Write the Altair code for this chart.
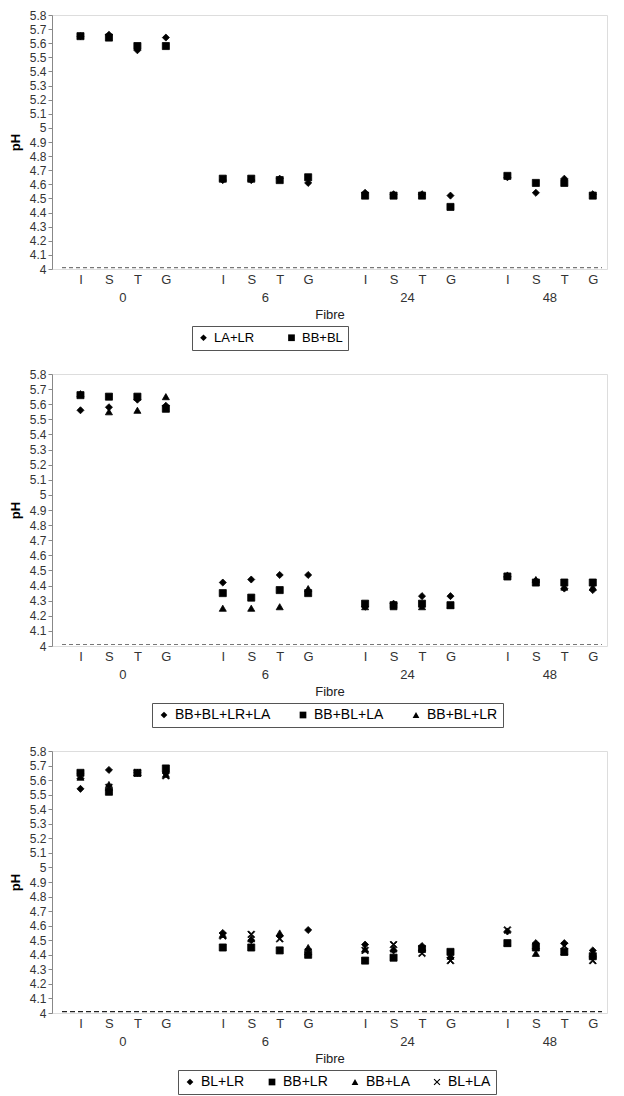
import altair as alt
import pandas as pd

# ---- categories ----
groups = ["0", "6", "24", "48"]
subs = ["I", "S", "T", "G"]
y_ticks = [4.0, 4.1, 4.2, 4.3, 4.4, 4.5, 4.6, 4.7, 4.8, 4.9, 5.0,
           5.1, 5.2, 5.3, 5.4, 5.5, 5.6, 5.7, 5.8]

# ---- panel 1 ----
p1_names = ["LA+LR", "BB+BL"]
p1_la_lr = [5.65, 5.66, 5.55, 5.64, 4.63, 4.63, 4.64, 4.61,
            4.54, 4.53, 4.53, 4.52, 4.65, 4.54, 4.64, 4.53]
p1_bb_bl = [5.65, 5.64, 5.58, 5.58, 4.64, 4.64, 4.63, 4.65,
            4.52, 4.52, 4.52, 4.44, 4.66, 4.61, 4.61, 4.52]

# ---- panel 2 ----
p2_names = ["BB+BL+LR+LA", "BB+BL+LA", "BB+BL+LR"]
p2_bb_bl_lr_la = [5.56, 5.58, 5.63, 5.59, 4.42, 4.44, 4.47, 4.47,
                  4.26, 4.28, 4.33, 4.33, 4.46, 4.43, 4.38, 4.37]
p2_bb_bl_la = [5.66, 5.65, 5.65, 5.57, 4.35, 4.32, 4.37, 4.35,
               4.28, 4.27, 4.28, 4.27, 4.46, 4.42, 4.42, 4.42]
p2_bb_bl_lr = [5.67, 5.55, 5.56, 5.65, 4.25, 4.25, 4.26, 4.38,
               4.26, 4.26, 4.26, 4.27, 4.47, 4.44, 4.39, 4.39]

# ---- panel 3 ----
p3_names = ["BL+LR", "BB+LR", "BB+LA", "BL+LA"]
p3_bl_lr = [5.54, 5.67, 5.65, 5.65, 4.55, 4.50, 4.53, 4.57,
            4.47, 4.43, 4.46, 4.38, 4.56, 4.48, 4.48, 4.43]
p3_bb_lr = [5.65, 5.52, 5.65, 5.68, 4.45, 4.45, 4.43, 4.40,
            4.36, 4.38, 4.44, 4.42, 4.48, 4.45, 4.42, 4.39]
p3_bb_la = [5.62, 5.57, 5.65, 5.64, 4.54, 4.51, 4.55, 4.45,
            4.44, 4.44, 4.45, 4.39, 4.48, 4.41, 4.42, 4.41]
p3_bl_la = [5.63, 5.55, 5.65, 5.63, 4.53, 4.54, 4.51, 4.42,
            4.43, 4.47, 4.41, 4.36, 4.57, 4.46, 4.46, 4.36]

# filled "x" outline (so it is drawn both in the plot and in the legend)
X_PATH = ("M0,-0.24L0.76,-1L1,-0.76L0.24,0L1,0.76L0.76,1L0,0.24"
          "L-0.76,1L-1,0.76L-0.24,0L-1,-0.76L-0.76,-1Z")
SHAPES = ["diamond", "square", "triangle-up", X_PATH]

W = 555
FONT = "Liberation Sans"

# category axis: each group's I,S,T,G with an empty slot between groups
keys = []
for gi, g in enumerate(groups):
    if gi > 0:
        keys.append("gap%d" % gi)
    for s in subs:
        keys.append(g + "|" + s)


def long_df(names, series):
    rows = []
    for name, vals in zip(names, series):
        k = 0
        for g in groups:
            for s in subs:
                rows.append({"key": g + "|" + s, "series": name, "pH": vals[k]})
                k += 1
    return pd.DataFrame(rows)


group_df = pd.DataFrame({"key": [g + "|S" for g in groups], "label": groups})


def x_enc():
    return alt.X(
        "key:N", sort=keys,
        scale=alt.Scale(type="point", domain=keys, padding=0.75, align=0.667),
        axis=alt.Axis(
            title="Fibre", labelAngle=0, domain=False, ticks=False, tickSize=0,
            labelPadding=4, titlePadding=22,
            labelExpr="indexof(datum.value, '|') > 0 ? split(datum.value, '|')[1] : ''",
            labelFontSize=13, labelColor="#333", labelFont=FONT,
            titleFontSize=13, titleFontWeight="normal", titleColor="#222",
            titleFont=FONT, labelOverlap=False,
        ),
    )


def y_enc(field):
    return alt.Y(
        field, title="pH",
        scale=alt.Scale(domain=[4, 5.8], nice=False, zero=False),
        axis=alt.Axis(values=y_ticks, format="~g", grid=False,
                      domainColor="#888", tickColor="#888", tickSize=4,
                      labelPadding=2, labelFontSize=12, labelColor="#333",
                      labelFont=FONT, titleFontSize=13, titleFontWeight="bold",
                      titleColor="black", titlePadding=7, titleFont=FONT),
    )


def panel(names, series, H, legend_x, label_size, col_pad, dash_color, dash):
    df = long_df(names, series)
    shapes = SHAPES[:len(names)]
    pts = alt.Chart(df).mark_point(
        filled=True, fill="black", fillOpacity=1, stroke="black",
        strokeWidth=0.8, size=50, opacity=1,
    ).encode(
        x=x_enc(), y=y_enc("pH:Q"),
        shape=alt.Shape(
            "series:N", sort=names,
            scale=alt.Scale(domain=names, range=shapes),
            legend=alt.Legend(
                orient="none", legendX=legend_x, legendY=H + 57,
                direction="horizontal", columns=len(names), title=None,
                strokeColor="#555", fillColor="white", padding=5,
                labelFontSize=label_size, labelColor="black", labelFont=FONT,
                symbolFillColor="black", symbolStrokeColor="black",
                symbolStrokeWidth=0.8, symbolSize=45, labelOffset=4,
                columnPadding=col_pad,
            ),
        ),
    )
    grp = alt.Chart(group_df).mark_text(
        fontSize=13, color="#333", baseline="middle", font=FONT, dx=14,
    ).encode(x=x_enc(), y=alt.value(H + 29), text="label:N")
    rule = alt.Chart(pd.DataFrame({"v": [4.01]})).mark_rule(
        color=dash_color, strokeDash=dash, strokeWidth=1.2,
    ).encode(y=y_enc("v:Q"), x=alt.value(10), x2=alt.value(W - 5))
    return alt.layer(pts, grp, rule).properties(width=W, height=H)


c1 = panel(p1_names, [p1_la_lr, p1_bb_bl], 254, 140, 13, 30, "#777", [4, 3])
c2 = panel(p2_names, [p2_bb_bl_lr_la, p2_bb_bl_la, p2_bb_bl_lr], 272, 100, 14, 25, "#777", [4, 3])
c3 = panel(p3_names, [p3_bl_lr, p3_bb_lr, p3_bb_la, p3_bl_la], 262, 126, 14, 20, "#222", [5, 3])

chart = alt.vconcat(c1, c2, c3, spacing=16).resolve_scale(
    shape="independent", x="independent", y="independent"
).resolve_legend(shape="independent").properties(
    padding={"left": 0, "top": 0, "right": 0, "bottom": 0}
).configure_view(stroke=None).configure(font=FONT)

chart.save("out.html", embed_options={"renderer": "svg", "actions": False})
